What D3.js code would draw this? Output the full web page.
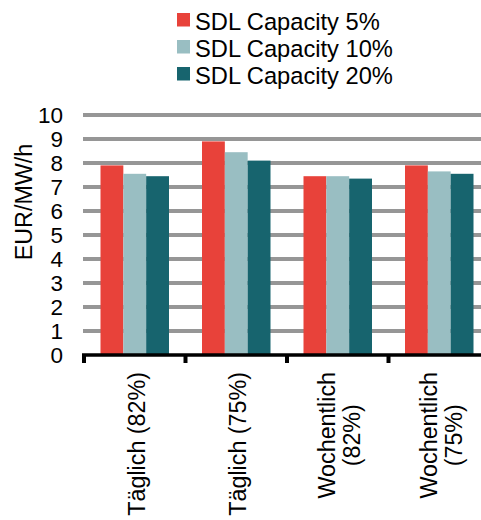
<!DOCTYPE html>
<html>
<head>
<meta charset="utf-8">
<script src="https://cdn.jsdelivr.net/npm/d3@7"></script>
<style>
  html, body { margin: 0; padding: 0; background: #fff; }
  svg { display: block; font-family: "Liberation Sans", Arial, sans-serif; }
</style>
</head>
<body>
<svg id="chart" width="481" height="520"></svg>
<script>
const categories = [["Täglich (82%)"], ["Täglich (75%)"], ["Wochentlich", "(82%)"], ["Wochentlich", "(75%)"]];
const seriesNames = ["SDL Capacity 5%", "SDL Capacity 10%", "SDL Capacity 20%"];
const seriesColors = ["#E8423A", "#99BEC2", "#17646E"];
const cap5 = [7.9, 8.9, 7.45, 7.9];
const cap10 = [7.55, 8.45, 7.45, 7.65];
const cap20 = [7.45, 8.1, 7.35, 7.55];
const seriesValues = [cap5, cap10, cap20];
const yTicks = [0, 1, 2, 3, 4, 5, 6, 7, 8, 9, 10];

const svg = d3.select("#chart");
const catKeys = categories.map(c => c.join(" "));

const y = d3.scaleLinear().domain([0, 10]).range([355, 115]);
const x0 = d3.scaleBand().domain(catKeys).range([84, 490]).paddingInner(0).paddingOuter(0);
const bw = x0.bandwidth();
const x1 = d3.scaleBand().domain(seriesNames).range([16.5, bw - 16.5]).padding(0);

// gridlines
svg.append("g").selectAll("line").data(yTicks.filter(t => t > 0)).join("line")
  .attr("x1", 83).attr("x2", 490)
  .attr("y1", d => y(d)).attr("y2", d => y(d))
  .attr("stroke", "#969696").attr("stroke-width", 4);

// bars
const groups = svg.append("g").selectAll("g").data(catKeys).join("g")
  .attr("transform", d => `translate(${x0(d)},0)`);
groups.selectAll("rect").data((d, i) => seriesNames.map((s, j) => ({ s, v: seriesValues[j][i], j })))
  .join("rect")
  .attr("x", d => x1(d.s))
  .attr("width", x1.bandwidth())
  .attr("y", d => y(d.v))
  .attr("height", d => y(0) - y(d.v))
  .attr("fill", d => seriesColors[d.j]);

// y tick labels
svg.append("g").selectAll("text").data(yTicks).join("text")
  .attr("x", 63).attr("y", d => y(d))
  .attr("dy", "0.36em")
  .attr("text-anchor", "end")
  .attr("font-size", 22.5)
  .attr("fill", "#000")
  .text(d => d);

// x axis
const xAxisG = svg.append("g").attr("transform", `translate(0,${y(0)})`);
xAxisG.append("line").attr("x1", 82).attr("x2", 490).attr("y1", 0).attr("y2", 0)
  .attr("stroke", "#000").attr("stroke-width", 3.5);
const boundaries = catKeys.map(k => x0(k)).concat([x0.range()[1]]);
xAxisG.selectAll("line.tick").data(boundaries).join("line").attr("class", "tick")
  .attr("x1", d => d).attr("x2", d => d).attr("y1", 0).attr("y2", 8)
  .attr("stroke", "#000").attr("stroke-width", 4);

// x labels
const labelTop = 372;
const lineH = 25;
categories.forEach((lines, i) => {
  const cx = x0(catKeys[i]) + bw / 2;
  const g = svg.append("g");
  const texts = lines.map((ln, k) => {
    const bx = cx + 10 + (k - (lines.length - 1) / 2) * lineH;
    return g.append("text")
      .attr("font-size", 23.3)
      .attr("text-anchor", "middle")
      .attr("fill", "#000")
      .attr("data-bx", bx)
      .text(ln);
  });
  const maxLen = d3.max(texts, t => t.node().getComputedTextLength());
  const cy = labelTop + maxLen / 2;
  texts.forEach(t => {
    const bx = +t.attr("data-bx");
    t.attr("transform", `translate(${bx},${cy}) rotate(-90)`);
  });
});

// y title
svg.append("text")
  .attr("transform", "translate(32,202) rotate(-90)")
  .attr("text-anchor", "middle")
  .attr("font-size", 23.3)
  .attr("fill", "#000")
  .text("EUR/MW/h");

// legend
const legend = svg.append("g").selectAll("g").data(seriesNames).join("g")
  .attr("transform", (d, i) => `translate(177,${29.5 + i * 27})`);
legend.append("rect").attr("x", 0).attr("y", -16.5).attr("width", 13).attr("height", 13.5)
  .attr("fill", (d, i) => seriesColors[i]);
legend.append("text").attr("x", 18).attr("y", 0)
  .attr("font-size", 23.7).attr("fill", "#000")
  .text(d => d);
</script>
</body>
</html>
